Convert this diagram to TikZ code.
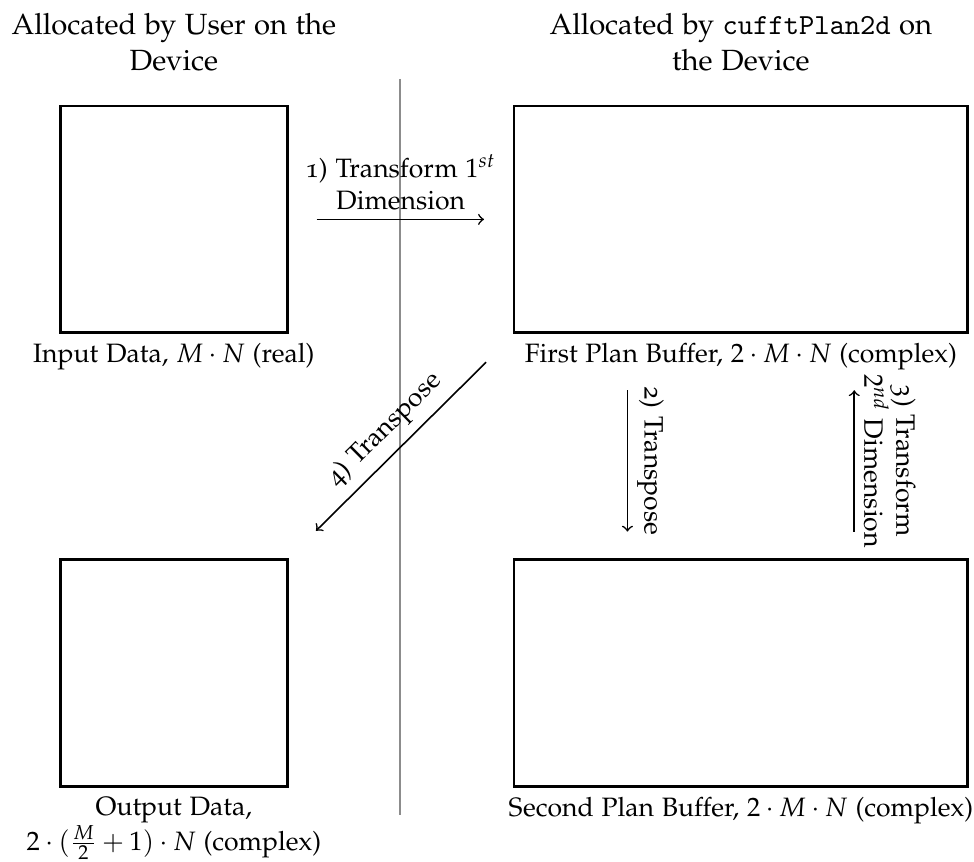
\documentclass[tikz,border=0pt]{standalone}
\usepackage[OT1]{fontenc}
\usepackage[osf]{mathpazo}
\renewcommand{\ttdefault}{cmtt}
\usetikzlibrary{positioning}

\tikzset{
  smallbuf/.style={draw,line width=1pt,minimum width=3cm,minimum height=3cm},
  largebuf/.style={draw,line width=1pt,minimum width=6cm,minimum height=3cm},
  heading/.style={align=center,font=\fontsize{11}{13.6}\selectfont},
  step arrow/.style={->,semithick},
}

\begin{document}
\begin{tikzpicture}
  \useasboundingbox (0,0) rectangle (12.884,11.402);

  % memory blocks
  \node[smallbuf,label={below:Input Data, $M \cdot N$ (real)}] (in) at (2.3,8.5) {};
  \node[largebuf,label={below:First Plan Buffer, $2 \cdot M \cdot N$ (complex)}] (first) at (9.8,8.5) {};
  \node[smallbuf,label={[align=center]below:Output Data,\\$2 \cdot (\frac{M}{2}+1) \cdot N$ (complex)}] (out) at (2.3,2.5) {};
  \node[largebuf,label={below:Second Plan Buffer, $2 \cdot M \cdot N$ (complex)}] (second) at (9.8,2.5) {};

  % headings
  \node[heading,above=0.32cm of in] (userhead) {Allocated by User on the\\Device};
  \node[heading,above=0.32cm of first] (planhead) {Allocated by \texttt{cufftPlan2d} on\\the Device};

  % separator
  \coordinate (septop) at (5.29,10.36);
  \coordinate (sepbot) at (5.29,0.62);
  \draw[black!45,line width=0.8pt] (septop) -- (sepbot);

  % steps
  \draw[step arrow,shorten <=0.37cm,shorten >=0.38cm] (in) -- (first)
    node[midway,above,align=center] {1) Transform $1^{st}$\\Dimension};

  \coordinate (t2a) at (8.3,6.24);
  \coordinate (t2b) at (8.3,4.37);
  \draw[step arrow] (t2a) -- (t2b) node[midway,sloped,above] {2) Transpose};

  \coordinate (t3a) at (11.3,6.24);
  \coordinate (t3b) at (11.3,4.37);
  \draw[step arrow,<-] (t3a) -- (t3b) node[midway,sloped,above,align=center] {3) Transform\\$2^{nd}$ Dimension};

  \coordinate (t4a) at (6.43,6.61);
  \coordinate (t4b) at (4.18,4.38);
  \draw[step arrow] (t4a) -- (t4b) node[midway,sloped,above] {4) Transpose};
\end{tikzpicture}
\end{document}
